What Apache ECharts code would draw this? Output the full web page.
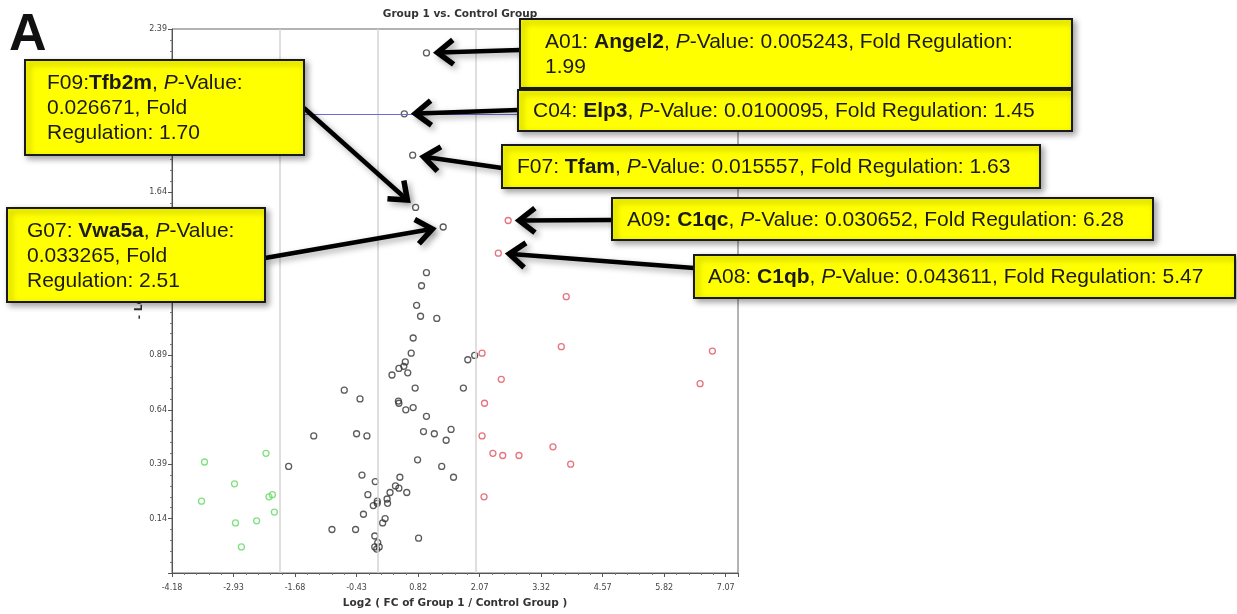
<!DOCTYPE html>
<html>
<head>
<meta charset="utf-8">
<script src="https://cdn.jsdelivr.net/npm/echarts@6/dist/echarts.min.js"></script>
<style>
  html, body { margin: 0; padding: 0; background: #fff; }
  #volcano-chart { width: 1237px; height: 614px; }
</style>
</head>
<body>
<div id="volcano-chart"></div>
<script>
// axis ranges (ticks step 1.25 on x, 0.25 on y)
const xMin = -4.18, xMax = 7.32, xStep = 1.25
const yMin = -0.11, yMax = 2.39, yStep = 0.25
const foldLines = [-2, 0, 2]
const pValueLine = 2

// log2 fold change / -log10 p value, black = not changed
const unchangedGenes = [
  [0.99, 1.27], [0.89, 1.21], [0.79, 1.12], [0.87, 1.07], [1.20, 1.06],
  [0.72, 0.97], [0.68, 0.90], [0.56, 0.86], [0.43, 0.83], [0.53, 0.84],
  [0.61, 0.81], [0.29, 0.80], [1.83, 0.87], [1.97, 0.89], [-0.68, 0.73],
  [0.76, 0.74], [1.74, 0.74], [-0.36, 0.69], [0.42, 0.68], [0.43, 0.67],
  [0.57, 0.64], [0.72, 0.65], [0.99, 0.61], [-1.30, 0.52], [-0.43, 0.53],
  [-0.22, 0.52], [0.93, 0.54], [1.15, 0.53], [1.49, 0.55], [1.39, 0.50],
  [-1.81, 0.38], [0.81, 0.41], [1.30, 0.38], [1.54, 0.33], [-0.32, 0.34],
  [-0.05, 0.31], [0.45, 0.33], [0.36, 0.29], [0.43, 0.28], [0.25, 0.26],
  [0.59, 0.26], [-0.20, 0.25], [-0.01, 0.22], [0.19, 0.23], [-0.01, 0.21],
  [-0.09, 0.20], [0.20, 0.21], [-0.29, 0.16], [0.15, 0.14], [0.10, 0.12],
  [-0.93, 0.09], [-0.45, 0.09], [0.83, 0.05], [-0.06, 0.06], [0.00, 0.03],
  [-0.06, 0.01], [0.03, 0.01], [-0.02, 0.00]
]
// red = up regulated
const upGenes = [
  [2.12, 0.90], [2.51, 0.78], [2.17, 0.67], [2.12, 0.52], [2.16, 0.24],
  [3.83, 1.16], [3.73, 0.93], [6.80, 0.91], [6.55, 0.76], [2.34, 0.44],
  [2.54, 0.43], [2.87, 0.43], [3.56, 0.47], [3.92, 0.39]
]
// green = down regulated
const downGenes = [
  [-3.52, 0.40], [-2.27, 0.44], [-2.91, 0.30], [-3.58, 0.22], [-2.21, 0.24],
  [-2.14, 0.25], [-2.10, 0.17], [-2.89, 0.12], [-2.46, 0.13], [-2.77, 0.01]
]

// labelled genes
const calloutIds = ['A01', 'C04', 'F07', 'F09', 'G07', 'A09', 'A08']
const calloutGenes = ['Angel2', 'Elp3', 'Tfam', 'Tfb2m', 'Vwa5a', 'C1qc', 'C1qb']
const calloutPValues = ['0.005243', '0.0100095', '0.015557', '0.026671', '0.033265', '0.030652', '0.043611']
const calloutFolds = ['1.99', '1.45', '1.63', '1.70', '2.51', '6.28', '5.47']
const calloutLog2FC = [0.99, 0.54, 0.71, 0.77, 1.33, 2.65, 2.45]
const calloutNegLogP = [2.28, 2.00, 1.81, 1.57, 1.48, 1.51, 1.36]
const calloutUp = [false, false, false, false, false, true, true]

const calloutPoints = calloutIds.map((id, i) => [calloutLog2FC[i], calloutNegLogP[i]])

// box layout: left, top, width, height, text indent, arrow start
const boxes = [
  {l: 520, t: 19, w: 552, h: 69, pad: 25, from: [520, 50],
   text: `A01: {b|Angel2}, {i|P}-Value: 0.005243, Fold Regulation:\n1.99`},
  {l: 518, t: 90, w: 554, h: 41, pad: 15, from: [518, 110],
   text: `C04: {b|Elp3}, {i|P}-Value: 0.0100095, Fold Regulation: 1.45`},
  {l: 502, t: 145, w: 538, h: 43, pad: 15, from: [502, 168],
   text: `F07: {b|Tfam}, {i|P}-Value: 0.015557, Fold Regulation: 1.63`},
  {l: 25, t: 60, w: 279, h: 95, pad: 22, from: [304, 108],
   text: `F09:{b|Tfb2m}, {i|P}-Value:\n0.026671, Fold\nRegulation: 1.70`},
  {l: 7, t: 208, w: 258, h: 94, pad: 20, from: [265, 258],
   text: `G07: {b|Vwa5a}, {i|P}-Value:\n0.033265, Fold\nRegulation: 2.51`},
  {l: 612, t: 198, w: 541, h: 42, pad: 15, from: [612, 220],
   text: `A09{b|: C1qc}, {i|P}-Value: 0.030652, Fold Regulation: 6.28`},
  {l: 694, t: 255, w: 541, h: 43, pad: 14, from: [694, 268],
   text: `A08: {b|C1qb}, {i|P}-Value: 0.043611, Fold Regulation: 5.47`}
]

const boxFont = 'Liberation Sans'
const boxSize = 21
const pointStyle = (c) => ({color: 'rgba(0,0,0,0)', borderColor: c, borderWidth: 1.3})

const chart = echarts.init(document.getElementById('volcano-chart'))

const axisText = {fontSize: 8, color: '#444', fontFamily: 'DejaVu Sans'}
const option = {
  animation: false,
  backgroundColor: '#fff',
  title: {
    text: 'Group 1 vs. Control Group',
    left: 455,
    textAlign: 'center',
    top: 4,
    textStyle: {fontSize: 10.5, fontWeight: 'bold', color: '#333', fontFamily: 'DejaVu Sans'}
  },
  grid: {
    left: 172, right: 499, top: 29, bottom: 41,
    show: true, borderColor: '#666', borderWidth: 1
  },
  xAxis: {
    type: 'value',
    min: xMin, max: xMax, interval: xStep,
    name: 'Log2 ( FC of Group 1 / Control Group )',
    nameLocation: 'middle',
    nameGap: 25,
    nameTextStyle: {fontSize: 10.5, fontWeight: 'bold', color: '#333', fontFamily: 'DejaVu Sans'},
    axisLine: {onZero: false, lineStyle: {color: '#555'}},
    axisTick: {length: 4, lineStyle: {color: '#555'}},
    minorTick: {show: true, splitNumber: 5, length: 2, lineStyle: {color: '#777'}},
    splitLine: {show: false},
    axisLabel: Object.assign({}, axisText, {
      showMaxLabel: false,
      margin: 11,
      formatter: (v) => v.toFixed(2)
    })
  },
  yAxis: {
    type: 'value',
    min: yMin, max: yMax, interval: yStep,
    name: '- Log10 ( p-value )',
    nameLocation: 'middle',
    nameGap: 27,
    nameTextStyle: {fontSize: 10.5, fontWeight: 'bold', color: '#333', fontFamily: 'DejaVu Sans', padding: [0, 0, 0, 72]},
    axisLine: {onZero: false, lineStyle: {color: '#555'}},
    axisTick: {length: 4, lineStyle: {color: '#555'}},
    minorTick: {show: true, splitNumber: 5, length: 2, lineStyle: {color: '#777'}},
    splitLine: {show: false},
    axisLabel: Object.assign({}, axisText, {
      showMinLabel: false,
      margin: 5,
      formatter: (v) => v.toFixed(2)
    })
  },
  series: [
    {
      name: 'unchanged',
      type: 'scatter',
      symbol: 'circle',
      symbolSize: 6,
      silent: true,
      itemStyle: pointStyle('#333'),
      data: unchangedGenes.concat(calloutPoints.filter((p, i) => !calloutUp[i])),
      markLine: {
        silent: true,
        symbol: 'none',
        label: {show: false},
        data: foldLines.map(v => ({xAxis: v, lineStyle: {color: '#d4d4d4', width: 1.5, type: 'solid'}}))
          .concat([{yAxis: pValueLine, lineStyle: {color: '#6b6bd6', width: 1, type: 'solid'}}])
      }
    },
    {
      name: 'up',
      type: 'scatter',
      symbol: 'circle',
      symbolSize: 6,
      silent: true,
      itemStyle: pointStyle('#e0505c'),
      data: upGenes.concat(calloutPoints.filter((p, i) => calloutUp[i]))
    },
    {
      name: 'down',
      type: 'scatter',
      symbol: 'circle',
      symbolSize: 6,
      silent: true,
      itemStyle: pointStyle('#62d862'),
      data: downGenes
    }
  ]
}
chart.setOption(option)

// callout boxes and arrows, arrow tips follow the data points
const shadow = {shadowBlur: 6, shadowOffsetX: 3, shadowOffsetY: 3, shadowColor: 'rgba(0,0,0,0.35)'}
const graphics = [{
  type: 'text', left: 9, top: 10, z: 100,
  style: {text: 'A', fontSize: 52, fontWeight: 'bold', fontFamily: boxFont, fill: '#111'}
}]
boxes.forEach((b, i) => {
  const target = chart.convertToPixel({gridIndex: 0}, calloutPoints[i])
  const sx = b.from[0], sy = b.from[1]
  const dx = target[0] - sx, dy = target[1] - sy
  const len = Math.sqrt(dx * dx + dy * dy)
  const ux = dx / len, uy = dy / len
  const gap = 11
  const tip = [target[0] - ux * gap, target[1] - uy * gap]
  const head = 20, ang = 38 * Math.PI / 180
  const wing = (s) => {
    const c = Math.cos(s * ang), n = Math.sin(s * ang)
    return [tip[0] - head * (ux * c - uy * n), tip[1] - head * (ux * n + uy * c)]
  }
  graphics.push({
    type: 'line', z: 90,
    shape: {x1: sx, y1: sy, x2: tip[0] - ux * 2, y2: tip[1] - uy * 2},
    style: Object.assign({stroke: '#000', lineWidth: 4.5}, shadow)
  })
  graphics.push({
    type: 'polyline', z: 90,
    shape: {points: [wing(1), tip, wing(-1)]},
    style: Object.assign({stroke: '#000', lineWidth: 5.5, fill: null, lineJoin: 'miter'}, shadow)
  })
  graphics.push({
    type: 'rect', z: 95,
    shape: {x: b.l, y: b.t, width: b.w, height: b.h},
    style: Object.assign({fill: '#ffff00', stroke: '#1a1a1a', lineWidth: 2}, shadow)
  })
  graphics.push({
    type: 'text', z: 96,
    x: b.l + b.pad, y: b.t + b.h / 2 + 1,
    style: {
      text: b.text,
      fontSize: boxSize, fontFamily: boxFont, fill: '#1a1a1a',
      lineHeight: 25, verticalAlign: 'middle',
      rich: {
        b: {fontSize: boxSize, fontFamily: boxFont, fontWeight: 'bold', fill: '#1a1a1a', lineHeight: 25},
        i: {fontSize: boxSize, fontFamily: boxFont, fontStyle: 'italic', fill: '#1a1a1a', lineHeight: 25}
      }
    }
  })
})
chart.setOption({graphic: graphics})
</script>
</body>
</html>
